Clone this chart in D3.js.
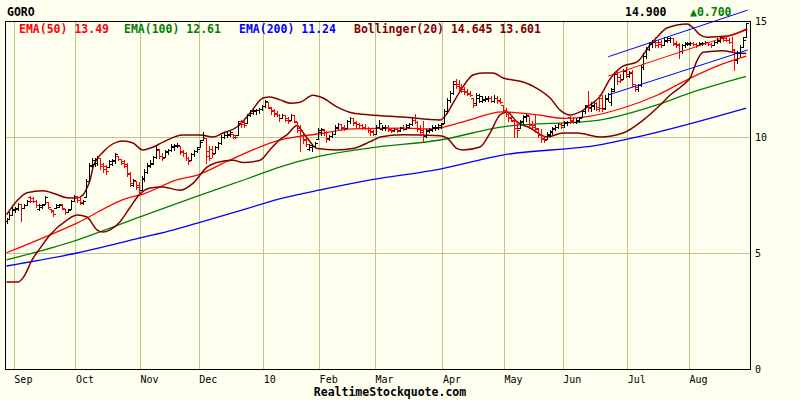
<!DOCTYPE html>
<html>
<head>
<meta charset="utf-8">
<script src="https://cdn.jsdelivr.net/npm/d3@7"></script>
<style>
  body { margin: 0; background: #fffff0; }
  svg { display: block; }
  text { font-family: "DejaVu Sans Mono", monospace; }
</style>
</head>
<body>
<svg id="chart" width="800" height="400"></svg>
<script>
// ---- data ----
const symbol = "GORO";
const siteName = "RealtimeStockquote.com";

// trading-day index of the first bar of each month, and its label
const monthIdx = [3, 24, 46, 66, 88, 107, 126, 149, 170, 190, 212, 233];
const monthLabels = ["Sep", "Oct", "Nov", "Dec", "10", "Feb", "Mar", "Apr", "May", "Jun", "Jul", "Aug"];
const priceTicks = [0, 5, 10, 15];

const opens = [
  6.40,6.45,6.65,6.85,6.90,7.10,6.95,7.05,7.40,7.35,
  7.25,6.90,7.00,7.10,7.20,6.90,6.85,6.95,7.00,7.10,
  6.90,6.75,6.90,7.25,7.45,7.40,7.15,7.40,8.10,8.75,
  8.85,8.90,9.10,8.85,8.75,8.70,8.85,8.95,9.20,9.05,
  8.95,8.85,8.45,7.95,8.10,7.95,7.70,8.20,8.50,8.75,
  8.90,9.15,9.45,9.20,9.15,9.35,9.45,9.55,9.60,9.60,
  9.40,9.30,9.10,9.00,9.25,9.40,9.55,9.85,9.95,9.40,
  9.50,9.30,9.55,9.75,10.00,10.10,10.10,10.15,10.10,10.10,
  10.70,10.65,10.60,10.95,11.05,11.10,11.15,11.20,11.35,11.50,
  11.25,11.15,11.05,10.95,10.80,10.95,10.80,10.75,10.95,10.65,
  10.40,10.10,9.90,9.50,9.55,9.60,9.90,10.20,10.30,10.20,
  9.95,10.05,10.15,10.40,10.55,10.45,10.40,10.70,10.80,10.65,
  10.55,10.50,10.45,10.40,10.30,10.25,10.15,10.45,10.35,10.40,
  10.45,10.35,10.30,10.35,10.30,10.45,10.35,10.45,10.55,10.75,
  10.65,10.40,10.30,10.05,10.25,10.30,10.40,10.40,10.45,10.60,
  11.10,11.60,11.90,12.40,12.30,12.15,12.05,12.00,11.90,11.70,
  11.45,11.70,11.55,11.60,11.65,11.70,11.55,11.70,11.60,11.40,
  11.15,11.00,10.85,10.70,10.50,10.40,10.65,10.85,10.90,10.55,
  10.50,10.35,10.15,9.95,9.90,10.10,10.20,10.35,10.45,10.55,
  10.50,10.60,10.85,10.75,10.65,10.70,10.85,11.10,11.40,11.30,
  11.35,11.45,11.30,11.70,11.25,11.65,11.50,12.05,12.80,12.60,
  12.50,12.90,12.65,12.80,12.20,12.05,12.25,13.00,13.50,13.80,
  14.00,14.20,14.10,14.10,13.95,14.15,14.20,14.25,14.05,14.00,
  13.70,13.95,14.00,14.00,14.05,14.00,13.95,14.00,14.05,14.10,
  14.00,13.95,14.10,14.15,14.30,14.25,14.20,14.10,13.75,13.30,
  13.60,13.90,14.30
];
const highs = [
  6.50,6.75,7.00,7.00,7.15,7.10,7.10,7.30,7.45,7.40,
  7.30,7.10,7.10,7.45,7.20,6.90,6.85,7.10,7.10,7.10,
  6.90,6.90,7.30,7.50,7.45,7.40,7.30,8.20,8.90,9.10,
  9.10,9.20,9.10,8.90,8.80,9.00,9.05,9.30,9.20,9.05,
  9.00,8.90,8.50,8.20,8.10,8.05,8.30,8.60,8.90,9.00,
  9.20,9.60,9.50,9.30,9.45,9.50,9.70,9.70,9.75,9.60,
  9.45,9.35,9.15,9.30,9.45,9.55,9.85,10.20,9.95,9.60,
  9.60,9.60,9.80,10.10,10.20,10.20,10.25,10.15,10.10,10.70,
  10.75,10.70,11.00,11.15,11.20,11.20,11.25,11.40,11.60,11.50,
  11.30,11.20,11.10,11.00,11.00,10.95,10.85,11.00,10.95,10.65,
  10.50,10.15,10.00,9.70,9.70,9.80,10.40,10.40,10.35,10.25,
  10.10,10.20,10.50,10.60,10.55,10.50,10.75,10.85,10.80,10.70,
  10.60,10.55,10.55,10.45,10.35,10.30,10.50,10.75,10.50,10.50,
  10.50,10.40,10.40,10.40,10.45,10.50,10.55,10.60,10.80,11.00,
  10.70,10.50,10.70,10.35,10.40,10.50,10.50,10.55,10.60,11.20,
  11.70,12.00,12.40,12.50,12.45,12.30,12.15,12.05,12.00,11.70,
  11.90,11.85,11.75,11.75,11.75,11.75,11.80,11.75,11.70,11.40,
  11.25,11.05,10.95,10.75,10.70,10.75,10.95,11.00,10.90,10.70,
  11.00,10.40,10.35,10.05,10.20,10.30,10.45,10.50,10.60,10.60,
  10.70,10.70,10.90,10.85,10.80,10.85,11.15,11.40,12.00,11.50,
  11.55,11.50,11.80,11.80,11.80,11.90,12.10,12.80,12.90,12.70,
  12.95,13.00,12.85,12.90,12.30,12.30,13.10,13.60,13.90,14.10,
  14.20,14.30,14.20,14.20,14.30,14.30,14.30,14.25,14.15,14.05,
  14.00,14.10,14.10,14.10,14.10,14.05,14.10,14.10,14.15,14.10,
  14.05,14.15,14.25,14.30,14.35,14.30,14.25,14.30,13.80,13.70,
  13.95,14.30,14.90
];
const lows = [
  6.30,6.45,6.65,6.75,6.85,6.40,6.95,7.05,7.20,7.20,
  7.00,6.85,6.95,7.10,6.95,6.75,6.60,6.95,7.00,6.90,
  6.70,6.75,6.90,7.25,7.20,7.10,7.10,7.40,8.10,8.70,
  8.75,8.80,8.60,8.50,8.40,8.70,8.80,8.90,9.00,8.85,
  8.70,8.30,7.90,7.90,7.75,7.55,7.70,8.10,8.45,8.70,
  8.85,9.10,9.10,9.00,9.15,9.25,9.40,9.45,9.55,9.25,
  9.20,9.00,8.85,9.00,9.20,9.35,9.55,9.85,8.90,9.00,
  9.15,9.30,9.50,9.70,9.95,10.00,10.05,9.95,9.95,10.10,
  10.45,10.45,10.60,10.90,11.00,11.00,11.05,11.15,11.30,11.25,
  11.00,10.90,10.90,10.70,10.80,10.70,10.60,10.75,10.65,10.20,
  9.40,9.75,9.60,9.45,9.40,9.55,9.90,10.10,10.10,9.80,
  9.85,10.00,10.15,10.35,10.30,10.30,10.40,10.60,10.50,10.45,
  10.40,10.35,10.35,10.20,10.10,10.10,10.15,10.40,10.30,10.30,
  10.25,10.20,10.25,10.20,10.25,10.30,10.35,10.40,10.50,10.60,
  10.25,10.10,9.80,10.00,10.20,10.25,10.30,10.35,10.40,10.60,
  11.05,11.50,11.85,12.10,12.00,11.95,11.85,11.80,11.75,11.30,
  11.40,11.50,11.50,11.55,11.55,11.50,11.50,11.45,11.45,11.05,
  10.90,10.70,10.70,10.00,10.00,10.40,10.60,10.70,10.40,10.35,
  10.20,10.00,9.80,9.80,9.90,10.05,10.15,10.30,10.40,10.40,
  10.45,10.50,10.60,10.60,10.60,10.65,10.85,11.05,11.10,11.10,
  11.20,11.15,11.10,11.10,11.20,11.55,11.40,12.00,12.30,12.35,
  12.50,12.60,12.60,12.20,12.00,12.00,12.20,12.95,13.40,13.75,
  13.90,13.90,13.90,13.90,13.95,14.10,14.10,13.95,13.90,13.40,
  13.60,13.90,13.95,13.95,13.95,13.90,13.95,13.95,14.00,13.95,
  13.90,13.95,14.05,14.10,14.15,14.15,14.05,13.70,12.90,13.20,
  13.50,13.90,14.30
];
const closes = [
  6.45,6.65,6.90,6.95,7.10,6.95,7.05,7.25,7.25,7.22,
  7.05,7.05,7.08,7.40,7.00,6.80,6.70,7.05,7.08,6.95,
  6.75,6.85,7.25,7.45,7.30,7.20,7.25,8.10,8.80,9.00,
  9.05,9.10,8.75,8.60,8.55,8.95,9.00,9.25,9.05,8.90,
  8.75,8.40,8.00,8.15,7.85,7.65,8.25,8.50,8.80,8.85,
  9.15,9.50,9.20,9.10,9.40,9.45,9.60,9.65,9.65,9.35,
  9.30,9.10,8.95,9.25,9.40,9.50,9.80,10.10,9.20,9.10,
  9.25,9.55,9.75,10.00,10.10,10.15,10.20,10.00,10.00,10.60,
  10.55,10.50,10.95,11.10,11.15,11.15,11.20,11.35,11.55,11.30,
  11.10,11.00,10.95,10.80,10.95,10.75,10.70,10.95,10.70,10.30,
  10.10,9.85,9.70,9.65,9.60,9.75,10.30,10.35,10.20,9.90,
  10.05,10.15,10.45,10.55,10.40,10.35,10.70,10.80,10.60,10.55,
  10.50,10.45,10.40,10.30,10.20,10.15,10.45,10.60,10.45,10.45,
  10.30,10.25,10.35,10.25,10.40,10.35,10.50,10.55,10.75,10.65,
  10.35,10.20,10.05,10.30,10.35,10.45,10.45,10.50,10.55,11.10,
  11.60,11.90,12.30,12.20,12.10,12.00,11.95,11.85,11.80,11.40,
  11.80,11.75,11.65,11.70,11.70,11.55,11.70,11.55,11.50,11.15,
  11.00,10.80,10.75,10.40,10.30,10.70,10.90,10.95,10.50,10.45,
  10.40,10.10,9.90,9.85,10.15,10.25,10.40,10.45,10.55,10.45,
  10.65,10.65,10.70,10.65,10.75,10.80,11.10,11.35,11.25,11.40,
  11.45,11.20,11.25,11.20,11.70,11.85,12.00,12.70,12.40,12.45,
  12.85,12.70,12.75,12.30,12.15,12.25,13.00,13.50,13.80,14.00,
  14.10,13.95,14.00,13.95,14.20,14.25,14.25,14.00,13.95,13.70,
  13.95,14.05,14.05,14.05,14.00,13.95,14.05,14.05,14.10,14.00,
  13.95,14.10,14.20,14.25,14.20,14.20,14.10,13.80,13.30,13.60,
  13.90,14.20,14.90
];

// indicator lines (bar index, value)
const ema50Idx = [0, 24, 42, 45.5, 58, 65, 76, 93, 106, 118, 135, 145, 155.5, 169, 181, 190, 199, 210, 221.6, 233, 244, 252];
const ema50Val = [5.01, 6.29, 7.40, 7.50, 8.15, 8.36, 9.00, 9.87, 10.13, 10.35, 10.38, 10.35, 10.65, 11.08, 10.95, 10.80, 10.90, 11.25, 11.80, 12.54, 13.15, 13.49];

const ema100Idx = [0, 24, 45.5, 65, 82, 93, 106, 124, 147.7, 169, 202, 221.6, 233, 252];
const ema100Val = [4.70, 5.56, 6.56, 7.45, 8.20, 8.70, 9.15, 9.53, 9.87, 10.44, 10.73, 11.38, 11.90, 12.61];

const ema200Idx = [0, 24, 45.5, 57, 65, 86, 93, 108.5, 124, 147.7, 169, 202, 218, 252];
const ema200Val = [4.44, 5.00, 5.65, 6.00, 6.29, 7.07, 7.33, 7.76, 8.15, 8.62, 9.22, 9.66, 10.09, 11.24];

const bbUpIdx = [0, 3.6, 7, 12.4, 16.5, 20.6, 24, 26, 27.4, 28.5, 29.5, 32.9, 37.6, 39.7, 43.1, 46.5, 50, 53.3,
  60.1, 65.9, 70.4, 73.8, 78.5, 83, 87.4, 89.8, 93.2, 96.6, 100, 104.4, 107.8, 112.6, 118, 123.9, 135.1, 147.7,
  150, 152.1, 155.5, 158.9, 162.3, 165.8, 169.2, 172.6, 176, 180.7, 185.2, 188.6, 192, 195.4, 198.8, 202.2,
  205.6, 210, 215, 219.4, 221.6, 225, 231.9, 234, 236.3, 238.7, 245.5, 252];
const bbUpVal = [6.65, 7.25, 7.60, 7.68, 7.55, 7.38, 7.37, 7.50, 7.80, 8.15, 8.70, 9.35, 9.78, 9.83, 9.74, 9.44, 9.57, 9.78,
  10.09, 10.09, 10.00, 10.17, 10.43, 11.03, 11.68, 11.72, 11.60, 11.46, 11.50, 11.80, 11.68, 11.30, 11.03, 10.95, 10.86, 10.73,
  11.00, 11.46, 12.16, 12.67, 12.76, 12.76, 12.54, 12.46, 12.37, 12.10, 11.68, 11.16, 10.95, 11.08, 11.38, 11.75,
  12.50, 13.05, 13.25, 14.00, 14.30, 14.70, 14.87, 14.70, 14.40, 14.30, 14.35, 14.645];

const bbLoIdx = [0, 4, 6, 8.7, 11.4, 14.8, 20.6, 24, 27.4, 30.8, 32.9, 35.3, 38.7, 42, 45.5, 48.9, 53.3, 59.1,
  63.5, 68.3, 71.7, 77.2, 80.6, 86.4, 89.8, 93.2, 95.6, 99, 101, 103.4, 105.8, 112.6, 118, 123.9, 127.3, 135.1,
  147.7, 150.1, 153.5, 155.5, 161.3, 164.7, 168.1, 170.5, 173.9, 178.4, 184.2, 189.6, 194.4, 202.2, 210, 216.9,
  222.7, 226, 230.5, 232.9, 235.3, 237.3, 244.1, 248.9, 252];
const bbLoVal = [3.75, 3.75, 4.00, 4.70, 5.20, 5.78, 6.42, 6.64, 6.55, 6.00, 5.90, 6.00, 6.35, 6.95, 7.55, 7.80, 7.85, 7.70,
  8.00, 8.70, 8.90, 9.00, 8.90, 9.00, 9.45, 9.90, 10.10, 10.50, 10.20, 9.80, 9.50, 9.44, 9.50, 9.80, 10.00, 10.10,
  10.05, 9.95, 9.50, 9.44, 9.57, 10.17, 10.95, 11.08, 10.65, 10.39, 10.00, 10.17, 10.17, 10.00, 10.17, 10.73,
  11.38, 11.80, 12.24, 12.55, 13.30, 13.65, 13.72, 13.62, 13.601];

// trend channel (start / end bar index)
const chanIdx = [205, 252.5];
const chanUpper = [13.46, 15.47];
const chanMiddle = [12.63, 14.63];
const chanLower = [11.81, 13.75];

// ---- drawing ----
const width = 800, height = 400;
const plot = { left: 5, right: 750, top: 21, bottom: 369 };
const bg = "#fffff0", gridColor = "#c4c48a";

const svg = d3.select("#chart");
svg.append("rect").attr("width", width).attr("height", height).attr("fill", bg);

const x = d3.scaleLinear().domain([0, closes.length - 1]).range([6.5, 746.2]);
const y = d3.scaleLinear().domain([0, 15]).range([plot.bottom, plot.top]);
const px = v => Math.round(v) + 0.5;

// grid
const grid = svg.append("g").attr("stroke", gridColor).attr("stroke-width", 1).attr("shape-rendering", "crispEdges");
grid.selectAll("line.v").data(monthIdx).join("line")
  .attr("class", "v")
  .attr("x1", d => px(x(d - 0.5))).attr("x2", d => px(x(d - 0.5)))
  .attr("y1", plot.top).attr("y2", plot.bottom);
grid.selectAll("line.h").data(priceTicks.filter(d => d > 0 && d < 15)).join("line")
  .attr("class", "h")
  .attr("x1", plot.left).attr("x2", plot.right)
  .attr("y1", d => px(y(d))).attr("y2", d => px(y(d)));

// axes
const xAxis = d3.axisBottom(x)
  .tickValues(monthIdx.map(d => d - 0.5))
  .tickFormat((d, i) => monthLabels[i])
  .tickSize(0).tickPadding(5);
const gx = svg.append("g").attr("transform", `translate(0,${plot.bottom})`).call(xAxis);
gx.select(".domain").remove();
gx.selectAll("text").attr("text-anchor", "start").attr("font-family", "DejaVu Sans Mono")
  .attr("font-size", 10).attr("fill", "#000").attr("dy", "0.9em");

const yAxis = d3.axisRight(y).tickValues(priceTicks).tickSize(0).tickPadding(5);
const gy = svg.append("g").attr("transform", `translate(${plot.right},0)`).call(yAxis);
gy.select(".domain").remove();
gy.selectAll("text").attr("font-family", "DejaVu Sans Mono").attr("font-size", 10).attr("fill", "#000");

// indicator lines
const line = d3.line().x(d => x(d[0])).y(d => y(d[1])).curve(d3.curveMonotoneX);
const series = [
  { idx: ema200Idx, val: ema200Val, color: "#0000ff", w: 1.3 },
  { idx: ema100Idx, val: ema100Val, color: "#008000", w: 1.3 },
  { idx: ema50Idx, val: ema50Val, color: "#ff0000", w: 1.3 },
  { idx: bbUpIdx, val: bbUpVal, color: "#800000", w: 1.5 },
  { idx: bbLoIdx, val: bbLoVal, color: "#800000", w: 1.5 }
];
svg.append("g").selectAll("path").data(series).join("path")
  .attr("fill", "none")
  .attr("stroke", d => d.color)
  .attr("stroke-width", d => d.w)
  .attr("d", d => line(d.idx.map((v, i) => [v, d.val[i]])));

// OHLC bars
const bars = closes.map((c, i) => ({ i, o: opens[i], h: highs[i], l: lows[i], c }));
const bg2 = svg.append("g").attr("shape-rendering", "crispEdges");
const bar = bg2.selectAll("g").data(bars).join("g")
  .attr("fill", d => d.c < d.o ? "#ff0000" : "#000000");
bar.append("rect")
  .attr("x", d => Math.round(x(d.i)))
  .attr("y", d => Math.round(y(d.h)))
  .attr("width", 1)
  .attr("height", d => Math.max(1, Math.round(y(d.l)) - Math.round(y(d.h)) + 1));
bar.append("rect")
  .attr("x", d => Math.round(x(d.i)) - 2)
  .attr("y", d => Math.round(y(d.o)))
  .attr("width", 2).attr("height", 1);
bar.append("rect")
  .attr("x", d => Math.round(x(d.i)) + 1)
  .attr("y", d => Math.round(y(d.c)))
  .attr("width", 2).attr("height", 1);

// trend channel
const chan = [
  { vals: chanUpper, color: "#0000ff" },
  { vals: chanMiddle, color: "#ff0000" },
  { vals: chanLower, color: "#0000ff" }
];
svg.append("g").selectAll("line").data(chan).join("line")
  .attr("x1", x(chanIdx[0])).attr("x2", x(chanIdx[1]))
  .attr("y1", d => y(d.vals[0])).attr("y2", d => y(d.vals[1]))
  .attr("stroke", d => d.color).attr("stroke-width", 1);

// frame
svg.append("rect")
  .attr("x", plot.left + 0.5).attr("y", plot.top + 0.5)
  .attr("width", plot.right - plot.left).attr("height", plot.bottom - plot.top)
  .attr("fill", "none").attr("stroke", "#000").attr("stroke-width", 1.3)
  .attr("shape-rendering", "crispEdges");

// header texts
const last = closes[closes.length - 1], prev = closes[closes.length - 2];
const head = svg.append("g").attr("font-weight", "bold").attr("font-size", 11.5);
head.append("text").attr("x", 7).attr("y", 16).attr("fill", "#000").text(symbol);
head.append("text").attr("x", 625).attr("y", 16).attr("fill", "#000").text(last.toFixed(3));
head.append("text").attr("x", 690).attr("y", 16).attr("fill", "#008000")
  .text((last >= prev ? "\u25B2" : "\u25BC") + Math.abs(last - prev).toFixed(3));

const legend = [
  { x: 19, color: "#ff0000", text: `EMA(50) ${ema50Val[ema50Val.length - 1].toFixed(2)}` },
  { x: 124, color: "#008000", text: `EMA(100) ${ema100Val[ema100Val.length - 1].toFixed(2)}` },
  { x: 239, color: "#0000ff", text: `EMA(200) ${ema200Val[ema200Val.length - 1].toFixed(2)}` },
  { x: 354, color: "#800000", text: `Bollinger(20) ${bbUpVal[bbUpVal.length - 1].toFixed(3)} ${bbLoVal[bbLoVal.length - 1].toFixed(3)}` }
];
head.selectAll("text.leg").data(legend).join("text")
  .attr("class", "leg")
  .attr("x", d => d.x).attr("y", 33)
  .attr("fill", d => d.color)
  .text(d => d.text);

head.append("text").attr("x", 390).attr("y", 396).attr("text-anchor", "middle")
  .attr("fill", "#000").text(siteName);
</script>
</body>
</html>
